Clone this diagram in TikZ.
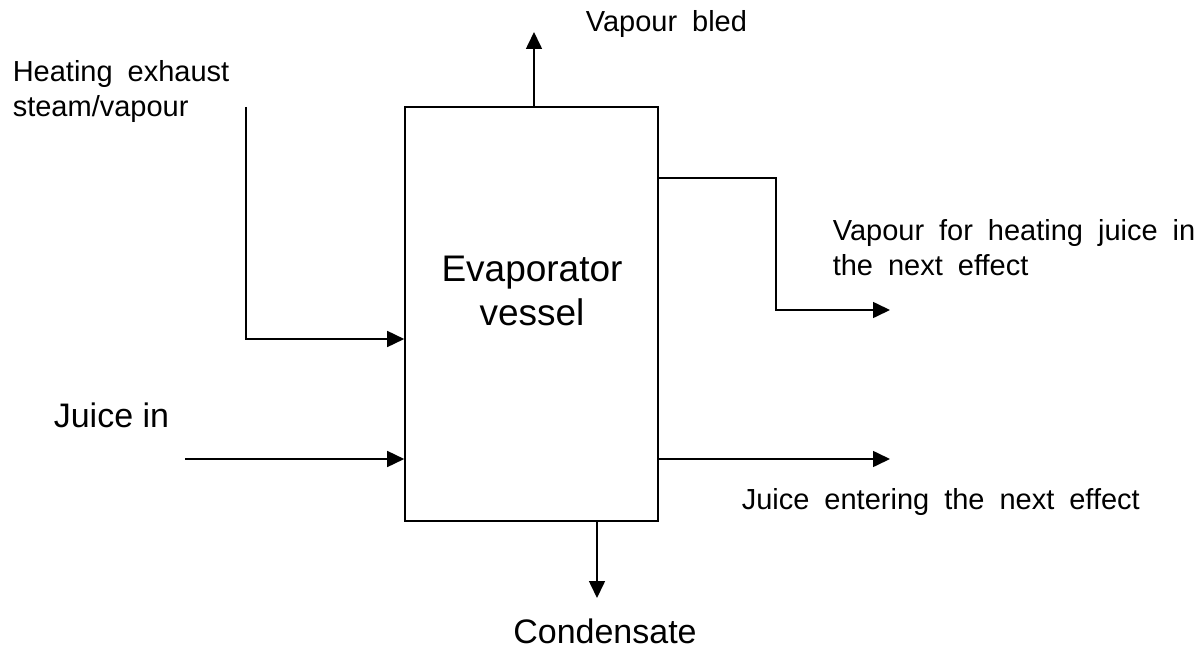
\documentclass[tikz,border=0pt]{standalone}
\usepackage{fontspec}
\setmainfont{Liberation Sans}
\usetikzlibrary{arrows.meta}
\newcommand\mywordsp{\spaceskip=15pt\relax}
\begin{document}
\begin{tikzpicture}[x=1pt,y=-1pt,
  line width=1.6pt,
  arr/.style={-{Triangle[length=17pt,width=16pt]}},
  small/.style={font=\fontsize{29}{35}\selectfont, execute at begin node={\mywordsp}, inner sep=0pt, align=left, anchor=west},
  big/.style={font=\fontsize{34}{40}\selectfont, inner sep=0pt},
  vessel/.style={draw, minimum width=253pt, minimum height=414pt, inner sep=0pt}]
\useasboundingbox (0,0) rectangle (1199,650);
\node[vessel] (vessel) at (531.5,314) {};
\node[font=\fontsize{37}{44}\selectfont, align=center, inner sep=0pt] (vtext) at (532,291) {Evaporator\\vessel};
% coordinates
\coordinate (vbtop) at (534,32);
\coordinate (hstart) at (246,107);
\coordinate (hcorner) at (246,339);
\coordinate (jin) at (185,459);
\coordinate (jout) at (890,459);
\coordinate (vn1) at (776,178);
\coordinate (vnend) at (890,310);
\coordinate (cond) at (597,598);
% connectors
\draw[arr] (vessel.north -| vbtop) -- (vbtop);
\draw[arr] (hstart) -- (hcorner) -- (vessel.west |- hcorner);
\draw[arr] (jin) -- (vessel.west |- jin);
\draw[arr] (vessel.east |- jout) -- (jout);
\draw[arr] (vessel.east |- vn1) -- (vn1) |- (vnend);
\draw[arr] (vessel.south -| cond) -- (cond);
% labels
\node[small] (lheat) at (12,92) {Heating exhaust\\steam/vapour};
\node[small] (lbled) at (585,24) {Vapour bled};
\node[small] (lnext) at (832,248) {Vapour for heating juice in\\the next effect};
\node[small] (ljout) at (741,502) {Juice entering the next effect};
\node[big, anchor=west] (ljin) at (53,415) {Juice in};
\node[big] (lcond) at (605,631) {Condensate};
\end{tikzpicture}
\end{document}
